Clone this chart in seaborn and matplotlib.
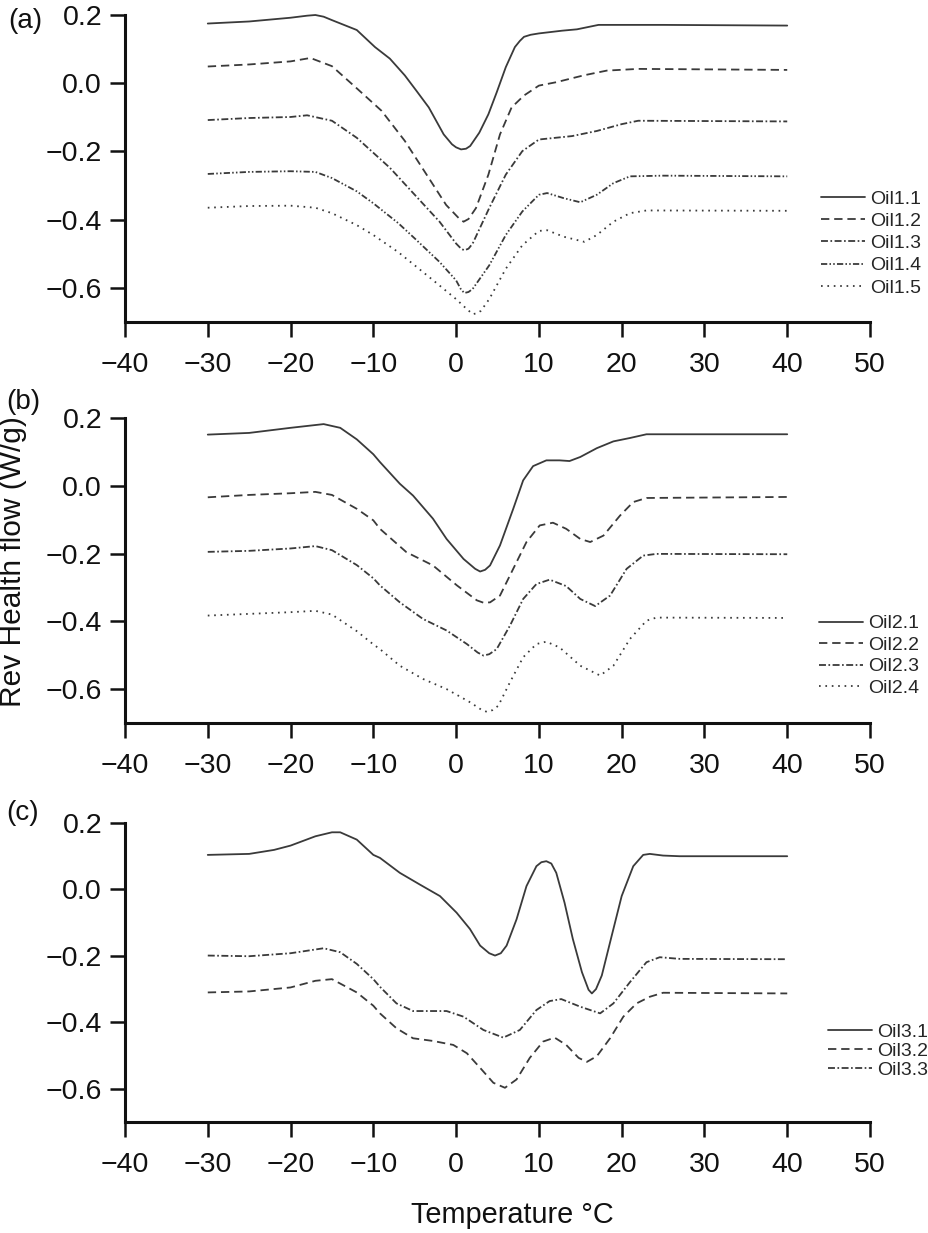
import matplotlib
matplotlib.use("Agg")
import matplotlib.pyplot as plt
from matplotlib.lines import Line2D
import numpy as np
import pandas as pd
import seaborn as sns

# ---------------- data ----------------
xticks = [-40, -30, -20, -10, 0, 10, 20, 30, 40, 50]
xtick_labels = ["\u221240", "\u221230", "\u221220", "\u221210", "0", "10", "20", "30", "40", "50"]
yticks = [-0.6, -0.4, -0.2, 0.0, 0.2]
ytick_labels = ["\u22120.6", "\u22120.4", "\u22120.2", "0.0", "0.2"]

names_a = ["Oil1.1", "Oil1.2", "Oil1.3", "Oil1.4", "Oil1.5"]
names_b = ["Oil2.1", "Oil2.2", "Oil2.3", "Oil2.4"]
names_c = ["Oil3.1", "Oil3.2", "Oil3.3"]

T11 = [-30, -25, -20, -18, -17, -16, -15, -12, -9.8, -8, -6.2, -4.8, -3.3, -1.5, -0.5, 0.0, 0.6, 1.2, 1.7, 2.8, 3.9, 4.9, 6, 7.1, 7.7, 8.2, 9, 10, 12.8, 14.6, 17.2, 25, 40]
V11 = [0.175, 0.181, 0.192, 0.198, 0.200, 0.195, 0.185, 0.156, 0.106, 0.072, 0.023, -0.022, -0.071, -0.150, -0.179, -0.188, -0.194, -0.192, -0.184, -0.145, -0.091, -0.027, 0.047, 0.106, 0.124, 0.136, 0.142, 0.146, 0.154, 0.158, 0.171, 0.171, 0.169]
T12 = [-30, -25, -20, -17.6, -15, -12, -9, -6.2, -3.3, -1.2, 0.3, 0.9, 1.5, 2.4, 3.9, 5.3, 6.7, 8.2, 10, 12.1, 15.4, 18.2, 22, 40]
V12 = [0.049, 0.055, 0.064, 0.074, 0.050, -0.015, -0.081, -0.169, -0.278, -0.357, -0.395, -0.406, -0.398, -0.366, -0.268, -0.150, -0.071, -0.036, -0.007, 0.003, 0.023, 0.037, 0.042, 0.039]
T13 = [-30, -25, -20, -18, -15, -12, -10, -8, -5, -2, 0, 0.6, 1, 1.5, 2, 4, 6, 8, 10, 12, 14, 17, 20, 22, 40]
V13 = [-0.108, -0.102, -0.099, -0.094, -0.110, -0.160, -0.204, -0.248, -0.327, -0.406, -0.470, -0.485, -0.490, -0.485, -0.470, -0.366, -0.268, -0.199, -0.165, -0.160, -0.155, -0.140, -0.120, -0.110, -0.112]
T14 = [-30, -25, -20, -17, -15, -12, -10, -7, -5, -2, 0, 0.6, 1, 1.5, 2, 4, 6, 8, 10, 11, 13, 15, 17, 19, 21, 25, 40]
V14 = [-0.266, -0.260, -0.258, -0.260, -0.278, -0.317, -0.352, -0.410, -0.455, -0.524, -0.578, -0.605, -0.615, -0.612, -0.603, -0.534, -0.445, -0.376, -0.327, -0.322, -0.337, -0.349, -0.327, -0.293, -0.273, -0.271, -0.273]
T15 = [-30, -25, -20, -17, -15, -12, -10, -7, -5, -2, 0, 1.2, 2, 2.6, 3, 4, 6, 8, 10, 11, 13, 15.5, 17, 19, 21, 23, 40]
V15 = [-0.365, -0.360, -0.359, -0.365, -0.381, -0.416, -0.445, -0.495, -0.534, -0.593, -0.633, -0.660, -0.677, -0.674, -0.667, -0.633, -0.544, -0.475, -0.433, -0.431, -0.450, -0.465, -0.445, -0.406, -0.381, -0.373, -0.374]

T21 = [-30, -25, -20, -16, -14, -12, -10, -9.2, -6.8, -5.2, -2.8, -1.15, 0.9, 2.3, 2.9, 3.5, 4.1, 5.3, 6.9, 8.1, 9.3, 10.9, 12.5, 13.7, 15, 17, 19, 21, 23, 40]
V21 = [0.151, 0.156, 0.171, 0.182, 0.171, 0.137, 0.093, 0.070, 0.006, -0.029, -0.097, -0.157, -0.216, -0.245, -0.253, -0.248, -0.235, -0.176, -0.068, 0.016, 0.058, 0.075, 0.075, 0.073, 0.085, 0.111, 0.131, 0.141, 0.152, 0.152]
T22 = [-30, -25, -20, -17, -15, -12, -10, -9.2, -6, -2.8, 0.1, 2.5, 3.3, 4.1, 5.3, 6.9, 8.5, 10.1, 11.7, 13.3, 15, 16.2, 17.8, 19.8, 21.4, 23, 40]
V22 = [-0.034, -0.027, -0.022, -0.018, -0.027, -0.068, -0.102, -0.127, -0.196, -0.235, -0.294, -0.338, -0.345, -0.344, -0.324, -0.245, -0.166, -0.117, -0.109, -0.127, -0.157, -0.166, -0.147, -0.088, -0.048, -0.036, -0.033]
T23 = [-30, -25, -20, -17, -15, -12, -10, -9.2, -6.8, -4, -1.15, 1.3, 2.6, 3.3, 4.0, 4.9, 6.5, 8.1, 9.7, 11.3, 13.3, 15, 16.8, 18.6, 20.6, 22.6, 24.2, 40]
V23 = [-0.195, -0.192, -0.185, -0.178, -0.190, -0.234, -0.273, -0.294, -0.344, -0.393, -0.427, -0.467, -0.492, -0.501, -0.497, -0.482, -0.413, -0.334, -0.290, -0.277, -0.296, -0.334, -0.355, -0.324, -0.245, -0.206, -0.201, -0.202]
T24 = [-30, -20, -17, -15, -12, -10, -9.2, -6.8, -4, -1.15, 1.7, 3.0, 3.7, 4.4, 5.1, 6.5, 8.1, 9.7, 10.9, 12.5, 15, 17.4, 19, 21, 23, 24.2, 40]
V24 = [-0.383, -0.373, -0.369, -0.380, -0.429, -0.468, -0.482, -0.531, -0.570, -0.600, -0.639, -0.660, -0.667, -0.662, -0.649, -0.580, -0.506, -0.467, -0.460, -0.477, -0.531, -0.560, -0.531, -0.452, -0.398, -0.389, -0.390]

T31 = [-30, -25, -22, -20, -17, -15, -14, -12, -10, -9.2, -6.8, -4.4, -1.95, 0.06, 1.67, 2.9, 4.0, 4.7, 5.4, 6.1, 7.3, 8.5, 9.7, 10.3, 10.9, 11.5, 12.1, 13.1, 14.1, 15.2, 16.0, 16.4, 16.9, 17.6, 18.8, 20, 21.4, 22.6, 23.4, 25, 27, 40]
V31 = [0.104, 0.107, 0.119, 0.132, 0.160, 0.172, 0.172, 0.150, 0.104, 0.095, 0.050, 0.015, -0.020, -0.070, -0.119, -0.169, -0.192, -0.199, -0.192, -0.169, -0.090, 0.010, 0.070, 0.082, 0.085, 0.078, 0.050, -0.040, -0.149, -0.249, -0.302, -0.313, -0.300, -0.259, -0.139, -0.020, 0.070, 0.104, 0.107, 0.102, 0.100, 0.100]
T32 = [-30, -25, -20, -17, -15, -12, -10, -9.2, -7.2, -5.2, -2.8, -0.34, 1.3, 2.9, 4.5, 5.9, 7.3, 8.9, 10.5, 11.9, 13.3, 14.8, 15.8, 17, 18.6, 20.2, 21.8, 23.4, 25, 40]
V32 = [-0.310, -0.307, -0.295, -0.275, -0.270, -0.310, -0.350, -0.373, -0.418, -0.448, -0.456, -0.468, -0.493, -0.537, -0.582, -0.597, -0.572, -0.507, -0.458, -0.446, -0.468, -0.507, -0.519, -0.502, -0.448, -0.383, -0.343, -0.323, -0.311, -0.313]
T33 = [-30, -25, -20, -16, -14, -12, -10, -9.2, -7.2, -5.2, -1.15, 0.9, 3.3, 5.7, 7.7, 9.7, 11.3, 12.7, 15, 17.4, 19, 21, 23, 24.6, 27, 40]
V33 = [-0.199, -0.201, -0.192, -0.177, -0.189, -0.224, -0.270, -0.293, -0.343, -0.366, -0.366, -0.383, -0.423, -0.446, -0.423, -0.363, -0.336, -0.330, -0.353, -0.373, -0.343, -0.279, -0.219, -0.204, -0.209, -0.210]

# ---------------- style ----------------
sns.set_theme(style="ticks")
plt.rcParams["font.family"] = ["Liberation Sans", "DejaVu Sans"]
plt.rcParams["lines.scale_dashes"] = False
plt.rcParams["axes.unicode_minus"] = True

LINE = "#3a3a3a"
LW = 1.3
SOLID = ""
DASH = (6.0, 3.5)
DASHDOT = (5.0, 1.8, 1.2, 1.8)
DASHDOTDOT = (4.5, 1.6, 1.1, 1.6, 1.1, 1.6)
DOT = (1.2, 3.4)

W, H = 929, 1233
fig = plt.figure(figsize=(W / 100, H / 100), dpi=100)
fig.patch.set_facecolor("white")

x_left = 125 / W
x_w = (870 - 125) / W

panels = [
    dict(names=names_a, T=[T11, T12, T13, T14, T15], V=[V11, V12, V13, V14, V15],
         dashes=[SOLID, DASH, DASHDOT, DASHDOTDOT, DOT],
         top=15, bottom=322, tag="(a)", tagxy=(25, 21),
         leg=(0.934, 0.256), lspace=0.24),
    dict(names=names_b, T=[T21, T22, T23, T24], V=[V21, V22, V23, V24],
         dashes=[SOLID, DASH, DASHDOT, DOT],
         top=418, bottom=723, tag="(b)", tagxy=(23, 402),
         leg=(0.9315, 0.22), lspace=0.2),
    dict(names=names_c, T=[T31, T32, T33], V=[V31, V32, V33],
         dashes=[SOLID, DASH, DASHDOT],
         top=823, bottom=1122, tag="(c)", tagxy=(23, 813),
         leg=(0.9436, 0.2375), lspace=0.06),
]

for p in panels:
    ax = fig.add_axes([x_left, 1 - p["bottom"] / H, x_w, (p["bottom"] - p["top"]) / H])
    frames = []
    for name, t, v in zip(p["names"], p["T"], p["V"]):
        frames.append(pd.DataFrame({"T": t, "V": v, "oil": name}))
    df = pd.concat(frames, ignore_index=True)
    dash_map = dict(zip(p["names"], p["dashes"]))
    sns.lineplot(data=df, x="T", y="V", style="oil", style_order=p["names"],
                 dashes=dash_map, color=LINE, linewidth=LW, sort=False,
                 estimator=None, legend=False, ax=ax)
    for ln in ax.lines:
        ln.set_clip_on(False)
        ln.set_solid_joinstyle("round")
        ln.set_dash_joinstyle("round")

    ax.set_xlim(-40, 50)
    ax.set_ylim(-0.7, 0.2)
    ax.set_xticks(xticks)
    ax.set_xticklabels(xtick_labels)
    ax.set_yticks(yticks)
    ax.set_yticklabels(ytick_labels)
    ax.set_xlabel("")
    ax.set_ylabel("")
    ax.set_facecolor("white")
    for s in ["top", "right"]:
        ax.spines[s].set_visible(False)
    for s in ["left", "bottom"]:
        ax.spines[s].set_linewidth(2.2)
        ax.spines[s].set_color("#111111")
    ax.tick_params(axis="both", direction="out", length=11, width=1.8,
                   color="#111111", labelsize=20.5, labelcolor="#111111")
    ax.tick_params(axis="y", pad=5.5)
    ax.tick_params(axis="x", pad=10.5)

    handles = []
    for name, d in zip(p["names"], p["dashes"]):
        ls = "-" if d == "" else (0, d)
        handles.append(Line2D([], [], color=LINE, lw=LW, linestyle=ls))
    ax.legend(handles, p["names"], loc="center left", bbox_to_anchor=p["leg"],
              frameon=False, fontsize=14, borderpad=0, borderaxespad=0,
              handlelength=2.25, handletextpad=0.26, labelspacing=p["lspace"])

    fig.text(p["tagxy"][0] / W, 1 - p["tagxy"][1] / H, p["tag"], ha="center",
             va="center", fontsize=20, color="#111111")

fig.text(13 / W, 1 - 562 / H, "Rev Health flow (W/g)", rotation=90,
         ha="center", va="center", fontsize=21.5, color="#111111")
fig.text(512 / W, 1 - 1215 / H, "Temperature \u00b0C", ha="center",
         va="center", fontsize=20.8, color="#111111")

fig.savefig("out.png", dpi=100, facecolor="white")
